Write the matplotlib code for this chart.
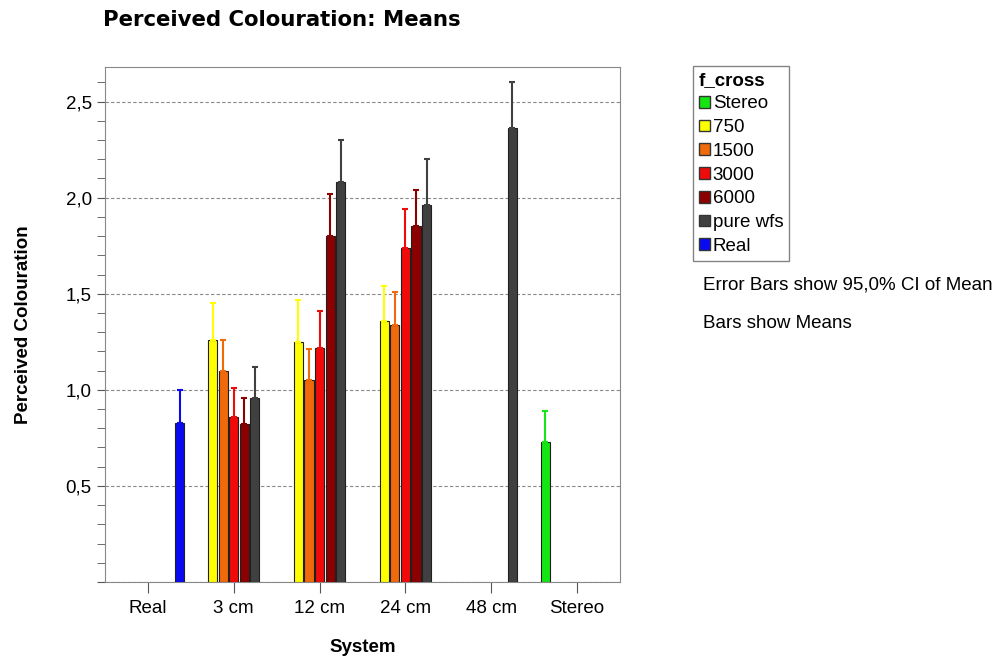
import numpy as np
import matplotlib
matplotlib.use('Agg')
import matplotlib.pyplot as plt
from matplotlib.patches import Patch
from matplotlib.ticker import MultipleLocator, FuncFormatter

# DADOS
systems = ['Real', '3 cm', '12 cm', '24 cm', '48 cm', 'Stereo']
f_cross = ['Stereo', '750', '1500', '3000', '6000', 'pure wfs', 'Real']
colors = ['#14e614', '#ffff00', '#f0690a', '#f00a0a', '#8c0000', '#404040', '#0a0af0']

# medias por f_cross (None = sem barra)
mean_stereo = [None, None, None, None, None, 0.73]
mean_750 = [None, 1.26, 1.25, 1.36, None, None]
mean_1500 = [None, 1.10, 1.05, 1.34, None, None]
mean_3000 = [None, 0.86, 1.22, 1.74, None, None]
mean_6000 = [None, 0.82, 1.80, 1.85, None, None]
mean_wfs = [None, 0.96, 2.08, 1.96, 2.36, None]
mean_real = [0.83, None, None, None, None, None]

# limite superior do IC 95%
ci_stereo = [None, None, None, None, None, 0.89]
ci_750 = [None, 1.45, 1.47, 1.54, None, None]
ci_1500 = [None, 1.26, 1.21, 1.51, None, None]
ci_3000 = [None, 1.01, 1.41, 1.94, None, None]
ci_6000 = [None, 0.96, 2.02, 2.04, None, None]
ci_wfs = [None, 1.12, 2.30, 2.20, 2.60, None]
ci_real = [1.00, None, None, None, None, None]

means = [mean_stereo, mean_750, mean_1500, mean_3000, mean_6000, mean_wfs, mean_real]
cis = [ci_stereo, ci_750, ci_1500, ci_3000, ci_6000, ci_wfs, ci_real]

plt.rcParams['font.family'] = ['Liberation Sans', 'DejaVu Sans']
fs = 13.5

fig = plt.figure(figsize=(9.98, 6.61), dpi=100)
ax = fig.add_axes([105 / 998, 1 - 582 / 661, 515 / 998, 515 / 661])

x = np.arange(len(systems))
pitch = 0.123
width = 0.108
for k, (m, c) in enumerate(zip(means, cis)):
    off = (k - 3) * pitch
    for i in range(len(systems)):
        if m[i] is None:
            continue
        ax.bar(x[i] + off, m[i], width=width, color=colors[k],
               edgecolor='#202020', linewidth=0.8, zorder=3)
        ax.errorbar(x[i] + off, m[i], yerr=[[0], [c[i] - m[i]]],
                    fmt='none', ecolor=colors[k], elinewidth=1.5,
                    capsize=2.5, capthick=1.5, zorder=4)

ax.set_xlim(-0.5, 5.5)
ax.set_ylim(0, 2.68)
ax.set_xticks(x)
ax.set_xticklabels(systems, fontsize=fs)
ax.yaxis.set_major_locator(MultipleLocator(0.5))
ax.yaxis.set_minor_locator(MultipleLocator(0.1))
ax.yaxis.set_major_formatter(FuncFormatter(
    lambda v, p: '' if v == 0 else f'{v:.1f}'.replace('.', ',')))
ax.tick_params(axis='y', which='both', length=6, color='#555555', labelsize=fs)
ax.tick_params(axis='x', length=8, color='#555555', pad=5)
ax.grid(axis='y', which='major', linestyle=(0, (3, 2)), color='#888888',
        linewidth=0.8, zorder=0)
for s in ax.spines.values():
    s.set_color('#888888')

ax.set_xlabel('System', fontsize=fs, fontweight='bold', labelpad=16)
ax.set_ylabel('Perceived Colouration', fontsize=fs, fontweight='bold', labelpad=24)
fig.text(103 / 998, 1 - 20 / 661, 'Perceived Colouration: Means', fontsize=15.3,
         fontweight='bold', family='DejaVu Sans', va='center', ha='left')

handles = [Patch(facecolor=c, edgecolor='#333333', label=l)
           for c, l in zip(colors, f_cross)]
leg = fig.legend(handles=handles, title='f_cross', loc='upper left',
                 bbox_to_anchor=(693 / 998, 1 - 66 / 661), fontsize=fs,
                 title_fontproperties={'weight': 'bold', 'size': fs},
                 handlelength=0.6, handleheight=0.6, handletextpad=0.15,
                 labelspacing=0.36, borderpad=0.3, fancybox=False,
                 edgecolor='#666666', alignment='left', borderaxespad=0)
leg.get_frame().set_linewidth(1.0)

fig.text(703 / 998, 1 - 285 / 661, 'Error Bars show 95,0% CI of Mean',
         fontsize=fs, va='center')
fig.text(703 / 998, 1 - 324 / 661, 'Bars show Means', fontsize=fs, va='center')

fig.savefig('out.png', dpi=100)
